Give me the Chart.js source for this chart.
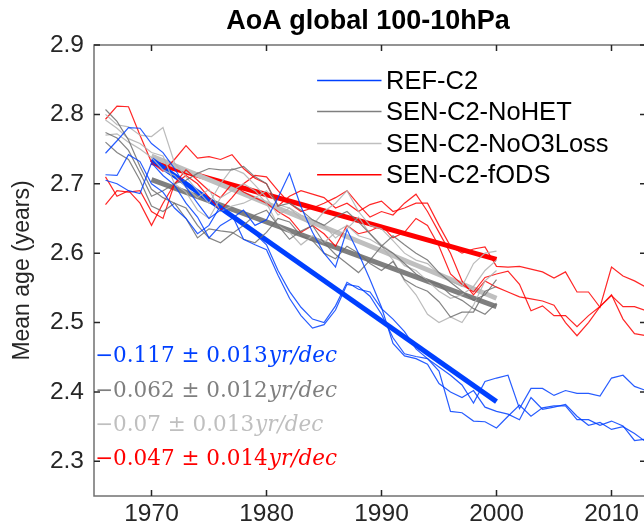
<!DOCTYPE html>
<html>
<head>
<meta charset="utf-8">
<script src="https://cdn.jsdelivr.net/npm/chart.js@4.4.1/dist/chart.umd.min.js"></script>
<style>
  html, body { margin: 0; padding: 0; background: #fff; overflow: hidden; }
  #wrap { width: 650px; height: 527px; }
</style>
</head>
<body>
<div id="wrap"><canvas id="aoaChart"></canvas></div>
<script>
// --- data ---
const titleText = 'AoA global 100-10hPa';
const yAxisLabel = 'Mean age (years)';
const xTicks = [1970, 1980, 1990, 2000, 2010];
const yTicks = [2.3, 2.4, 2.5, 2.6, 2.7, 2.8, 2.9];

const yearsLong = [];   // 1966..2013
for (let y = 1966; y <= 2013; y++) yearsLong.push(y);
const yearsShort = yearsLong.filter(y => y <= 2000);

const refC2 = [
    [2.744, 2.762, 2.781, 2.780, 2.758, 2.745, 2.722, 2.695, 2.672, 2.650, 2.662, 2.655, 2.640, 2.628, 2.612, 2.575, 2.545, 2.522, 2.505, 2.500, 2.524, 2.558, 2.548, 2.544, 2.520, 2.505, 2.487, 2.462, 2.448, 2.436, 2.424, 2.410, 2.384, 2.415, 2.420, 2.424, 2.376, 2.405, 2.405, 2.395, 2.402, 2.398, 2.398, 2.394, 2.420, 2.424, 2.408, 2.402],
    [2.713, 2.712, 2.742, 2.732, 2.700, 2.688, 2.665, 2.650, 2.628, 2.640, 2.668, 2.655, 2.620, 2.612, 2.605, 2.568, 2.535, 2.510, 2.492, 2.497, 2.518, 2.555, 2.552, 2.538, 2.512, 2.478, 2.455, 2.451, 2.448, 2.430, 2.372, 2.370, 2.358, 2.357, 2.348, 2.365, 2.381, 2.365, 2.377, 2.380, 2.380, 2.360, 2.360, 2.352, 2.358, 2.351, 2.330, 2.332],
    [2.705, 2.700, 2.690, 2.686, 2.730, 2.712, 2.698, 2.672, 2.652, 2.622, 2.640, 2.650, 2.662, 2.640, 2.648, 2.680, 2.715, 2.667, 2.630, 2.600, 2.580, 2.634, 2.600, 2.562, 2.522, 2.470, 2.452, 2.448, 2.440, 2.412, 2.400, 2.392, 2.402, 2.378, 2.372, 2.368, 2.360, 2.392, 2.375, 2.378, 2.382, 2.365, 2.352, 2.356, 2.346, 2.350, 2.340, 2.328]
];
const noHET = [
    [2.807, 2.790, 2.763, 2.725, 2.692, 2.680, 2.672, 2.650, 2.622, 2.635, 2.632, 2.630, 2.620, 2.615, 2.630, 2.650, 2.645, 2.625, 2.618, 2.600, 2.592, 2.610, 2.600, 2.585, 2.575, 2.588, 2.562, 2.552, 2.545, 2.530, 2.508, 2.515, 2.515, 2.545, 2.552],
    [2.774, 2.766, 2.748, 2.716, 2.682, 2.690, 2.700, 2.705, 2.715, 2.722, 2.720, 2.720, 2.725, 2.710, 2.700, 2.668, 2.672, 2.662, 2.648, 2.640, 2.652, 2.660, 2.645, 2.628, 2.610, 2.625, 2.612, 2.600, 2.590, 2.572, 2.558, 2.545, 2.532, 2.540, 2.562],
    [2.760, 2.745, 2.735, 2.705, 2.668, 2.660, 2.672, 2.665, 2.640, 2.622, 2.615, 2.628, 2.640, 2.655, 2.662, 2.640, 2.620, 2.632, 2.640, 2.615, 2.598, 2.585, 2.572, 2.590, 2.610, 2.600, 2.585, 2.570, 2.560, 2.555, 2.540, 2.532, 2.520, 2.512, 2.528]
];
const noO3Loss = [
    [2.800, 2.785, 2.782, 2.770, 2.768, 2.781, 2.730, 2.710, 2.690, 2.672, 2.700, 2.722, 2.715, 2.698, 2.680, 2.655, 2.665, 2.650, 2.640, 2.660, 2.672, 2.690, 2.660, 2.640, 2.635, 2.618, 2.600, 2.590, 2.585, 2.570, 2.560, 2.552, 2.585, 2.600, 2.603],
    [2.792, 2.780, 2.765, 2.758, 2.745, 2.740, 2.700, 2.688, 2.662, 2.650, 2.680, 2.690, 2.700, 2.690, 2.672, 2.640, 2.630, 2.612, 2.625, 2.615, 2.630, 2.640, 2.625, 2.620, 2.610, 2.590, 2.560, 2.540, 2.512, 2.500, 2.508, 2.500, 2.525, 2.560, 2.575],
    [2.770, 2.772, 2.760, 2.750, 2.738, 2.720, 2.712, 2.695, 2.680, 2.692, 2.660, 2.668, 2.672, 2.680, 2.690, 2.670, 2.665, 2.655, 2.648, 2.640, 2.622, 2.635, 2.652, 2.628, 2.612, 2.600, 2.582, 2.575, 2.560, 2.545, 2.535, 2.540, 2.552, 2.575, 2.590]
];
const fODS = [
    [2.793, 2.812, 2.811, 2.770, 2.731, 2.718, 2.735, 2.755, 2.737, 2.739, 2.735, 2.742, 2.722, 2.708, 2.700, 2.668, 2.682, 2.690, 2.685, 2.680, 2.665, 2.672, 2.660, 2.670, 2.675, 2.660, 2.665, 2.672, 2.672, 2.640, 2.610, 2.600, 2.606, 2.609, 2.581, 2.580, 2.581, 2.577, 2.573, 2.564, 2.573, 2.544, 2.544, 2.522, 2.580, 2.567, 2.560, 2.551],
    [2.710, 2.682, 2.690, 2.672, 2.640, 2.672, 2.700, 2.720, 2.705, 2.690, 2.680, 2.700, 2.688, 2.680, 2.672, 2.660, 2.650, 2.630, 2.640, 2.628, 2.610, 2.640, 2.628, 2.632, 2.640, 2.622, 2.630, 2.650, 2.640, 2.610, 2.570, 2.555, 2.544, 2.565, 2.570, 2.574, 2.555, 2.517, 2.524, 2.510, 2.510, 2.494, 2.510, 2.523, 2.539, 2.523, 2.523, 2.517],
    [2.670, 2.690, 2.688, 2.690, 2.660, 2.650, 2.700, 2.712, 2.700, 2.680, 2.662, 2.680, 2.700, 2.712, 2.710, 2.690, 2.672, 2.660, 2.665, 2.672, 2.680, 2.690, 2.670, 2.652, 2.660, 2.655, 2.672, 2.685, 2.660, 2.630, 2.600, 2.560, 2.540, 2.560, 2.551, 2.544, 2.537, 2.534, 2.531, 2.525, 2.500, 2.481, 2.500, 2.523, 2.540, 2.505, 2.484, 2.481]
];

// linear trends 1970-2000
const trendYears = [1970, 2000];
const trendRef = [2.735, 2.386];
const trendNoHET = [2.706, 2.523];
const trendNoO3 = [2.740, 2.535];
const trendFODS = [2.731, 2.591];

const legendLabels = ['REF-C2', 'SEN-C2-NoHET', 'SEN-C2-NoO3Loss', 'SEN-C2-fODS'];
const trendTexts = [
    ['\u22120.117 \u00b1 0.013', 'yr/dec'],
    ['\u22120.062 \u00b1 0.012', 'yr/dec'],
    ['\u22120.07 \u00b1 0.013', 'yr/dec'],
    ['\u22120.047 \u00b1 0.014', 'yr/dec']
];

const colors = ['#0040ff', '#7f7f7f', '#bfbfbf', '#ff0000'];
const thinColors = ['rgba(0,64,255,0.85)', 'rgba(110,110,110,0.85)', 'rgba(180,180,180,0.9)', 'rgba(255,0,0,0.85)'];

const toPts = (xs, ys) => ys.map((v, i) => ({ x: xs[i], y: v }));

const datasets = [];
const groups = [
    { runs: refC2, years: yearsLong, c: 0 },
    { runs: noHET, years: yearsShort, c: 1 },
    { runs: noO3Loss, years: yearsShort, c: 2 },
    { runs: fODS, years: yearsLong, c: 3 }
];
groups.forEach(g => {
    g.runs.forEach(run => {
        datasets.push({
            data: toPts(g.years, run),
            borderColor: thinColors[g.c],
            borderWidth: 1.2,
            pointRadius: 0,
            tension: 0
        });
    });
});
[trendRef, trendNoHET, trendNoO3, trendFODS].forEach((t, i) => {
    datasets.push({
        data: toPts(trendYears, t),
        borderColor: colors[i],
        borderWidth: 5,
        pointRadius: 0,
        borderCapStyle: 'butt'
    });
});

const sans = '"Liberation Sans", Arial, sans-serif';
const textColor = '#262626';

// box, inward ticks, title, axis label, legend and trend annotations
const decorations = {
    id: 'decorations',
    afterDatasetsDraw(chart) {
        const { ctx, chartArea: a, scales: { x, y } } = chart;
        ctx.save();
        ctx.strokeStyle = '#707070';
        ctx.lineWidth = 1.5;
        ctx.strokeRect(a.left, a.top, a.right - a.left, a.bottom - a.top);
        ctx.beginPath();
        xTicks.forEach(v => {
            const px = x.getPixelForValue(v);
            ctx.moveTo(px, a.bottom); ctx.lineTo(px, a.bottom - 6);
            ctx.moveTo(px, a.top); ctx.lineTo(px, a.top + 6);
        });
        yTicks.forEach(v => {
            const py = y.getPixelForValue(v);
            ctx.moveTo(a.left, py); ctx.lineTo(a.left + 6, py);
            ctx.moveTo(a.right, py); ctx.lineTo(a.right - 6, py);
        });
        ctx.strokeStyle = '#262626';
        ctx.stroke();

        // title
        ctx.fillStyle = '#000';
        ctx.font = 'bold 27px ' + sans;
        ctx.textAlign = 'center';
        ctx.textBaseline = 'middle';
        ctx.fillText(titleText, 368, 22);

        // y axis label
        ctx.save();
        ctx.translate(23, (a.top + a.bottom) / 2);
        ctx.rotate(-Math.PI / 2);
        ctx.fillStyle = textColor;
        ctx.font = '23px ' + sans;
        ctx.fillText(yAxisLabel, 0, 0);
        ctx.restore();

        // legend
        const legY = [2.8487, 2.804, 2.758, 2.713];
        ctx.font = '25.5px ' + sans;
        ctx.textAlign = 'left';
        legendLabels.forEach((lab, i) => {
            const py = y.getPixelForValue(legY[i]);
            ctx.strokeStyle = colors[i];
            ctx.lineWidth = 1.5;
            ctx.beginPath();
            ctx.moveTo(x.getPixelForValue(1984.4), py);
            ctx.lineTo(x.getPixelForValue(1990.0), py);
            ctx.stroke();
            ctx.fillStyle = '#000';
            ctx.fillText(lab, x.getPixelForValue(1990.4), py + 1);
        });

        // trend annotations
        const annY = [2.443, 2.392, 2.343, 2.294];
        ctx.textBaseline = 'alphabetic';
        trendTexts.forEach((t, i) => {
            const py = y.getPixelForValue(annY[i]);
            let px = a.left + 1;
            ctx.fillStyle = colors[i];
            ctx.font = '21.5px "DejaVu Serif", "Liberation Serif", serif';
            ctx.fillText(t[0], px, py);
            px += ctx.measureText(t[0]).width + 1;
            ctx.font = 'italic 21.5px "DejaVu Serif", "Liberation Serif", serif';
            ctx.fillText(t[1], px, py);
        });
        ctx.restore();
    }
};

new Chart(document.getElementById('aoaChart'), {
    type: 'line',
    data: { datasets },
    plugins: [decorations],
    options: {
        responsive: true,
        maintainAspectRatio: false,
        animation: false,
        events: [],
        layout: { padding: { top: 45, right: 4, left: 0, bottom: 0 } },
        plugins: { legend: { display: false }, tooltip: { enabled: false }, title: { display: false } },
        scales: {
            x: {
                type: 'linear',
                min: 1965,
                max: 2013,
                afterBuildTicks: s => { s.ticks = xTicks.map(v => ({ value: v })); },
                afterFit: s => { s.height = 31; },
                grid: { display: false, drawTicks: false },
                border: { display: false },
                ticks: { color: textColor, font: { family: sans, size: 24.5 }, padding: 4, maxRotation: 0, callback: v => String(v) }
            },
            y: {
                min: 2.25,
                max: 2.9,
                afterBuildTicks: s => { s.ticks = yTicks.map(v => ({ value: v })); },
                afterFit: s => { s.width = 94; },
                grid: { display: false, drawTicks: false },
                border: { display: false },
                ticks: { color: textColor, font: { family: sans, size: 24.5 }, padding: 10, callback: v => v.toFixed(1) }
            }
        }
    }
});
</script>
</body>
</html>
